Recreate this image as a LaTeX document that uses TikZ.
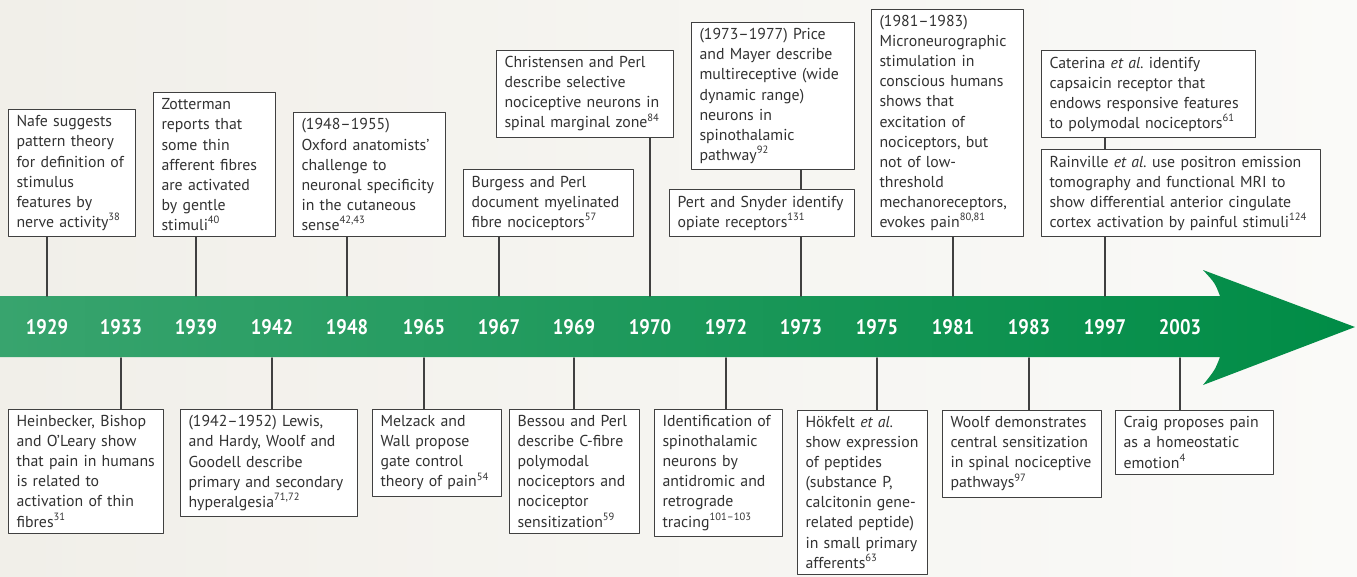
\documentclass[tikz,border=0pt]{standalone}
\usepackage{fontspec}
\setmainfont{PT Sans}
\newfontfamily\yearfont[FakeStretch=0.88]{PT Sans}
\usetikzlibrary{positioning}

\definecolor{bgleft}{RGB}{241,239,233}
\definecolor{bgright}{RGB}{250,250,248}
\definecolor{bandleft}{RGB}{56,164,110}
\definecolor{bandmid}{RGB}{14,147,82}
\definecolor{bandright}{RGB}{0,140,70}
\definecolor{boxgray}{RGB}{64,64,64}
\definecolor{textgray}{RGB}{50,50,50}

\begin{document}
\begin{tikzpicture}[x=0.02cm, y=-0.02cm, line join=round, line cap=round,
    font=\fontsize{9}{11.4}\selectfont,
    evbox/.style={draw=boxgray, line width=0.6pt, fill=white, text=textgray,
        align=left, inner xsep=0.16cm, inner ysep=3.5pt, text width=#1},
    year/.style={text=white, font=\yearfont\bfseries\fontsize{12}{14}\selectfont,
        minimum height=1.22cm, inner sep=0pt},
    link/.style={draw=boxgray, line width=0.6pt}]

    \clip (0,0) rectangle (1357,576);
    \shade[left color=bgleft, right color=bgright] (0,0) rectangle (1357,576);

    % the time arrow
    \shade[left color=bandleft, middle color=bandmid, right color=bandright]
        (0,296) -- (1220,296) .. controls (1215,283) .. (1203,270) -- (1355,327)
        -- (1203,385) .. controls (1215,370) .. (1220,357) -- (0,357) -- cycle;

    \foreach \yr/\xx in {1929/47, 1933/121, 1939/196, 1942/272, 1948/347, 1965/424,
        1967/499, 1969/574, 1970/650, 1972/726, 1973/801, 1975/877, 1981/953,
        1983/1029, 1997/1105, 2003/1180}
        \node[year] (y\yr) at (\xx,327) {\yr};

    % events above
    \node[evbox=2.22cm, anchor=south west] (nafe) at (8,237)
        {Nafe suggests\\pattern theory\\for definition of\\stimulus\\features by\\nerve activity\textsuperscript{38}};
    \node[evbox=2.12cm, anchor=south west] (zott) at (153,237)
        {Zotterman\\reports that\\some thin\\afferent fibres\\are activated\\by gentle\\stimuli\textsuperscript{40}};
    \node[evbox=2.72cm, anchor=south west] (oxf) at (293,237)
        {(1948--1955)\\Oxford anatomists'\\challenge to\\neuronal specificity\\in the cutaneous\\sense\textsuperscript{42,43}};
    \node[evbox=3.08cm, anchor=south west] (burg) at (463,237)
        {Burgess and Perl\\document myelinated\\fibre nociceptors\textsuperscript{57}};
    \node[evbox=3.22cm, anchor=south west] (chris) at (496,138)
        {Christensen and Perl\\describe selective\\nociceptive neurons in\\spinal marginal zone\textsuperscript{84}};
    \node[evbox=2.94cm, anchor=south west] (price) at (691,170)
        {(1973--1977) Price\\and Mayer describe\\multireceptive (wide\\dynamic range)\\neurons in\\spinothalamic\\pathway\textsuperscript{92}};
    \node[evbox=3.38cm, anchor=south west] (pert) at (669,237)
        {Pert and Snyder identify\\opiate receptors\textsuperscript{131}};
    \node[evbox=2.72cm, anchor=south west] (micro) at (871,237)
        {(1981--1983)\\Microneurographic\\stimulation in\\conscious humans\\shows that\\excitation of\\nociceptors, but\\not of low-\\threshold\\mechanoreceptors,\\evokes pain\textsuperscript{80,81}};
    \node[evbox=3.96cm, anchor=south west] (cat) at (1041,138)
        {Caterina \textit{et al.}\ identify\\capsaicin receptor that\\endows responsive features\\to polymodal nociceptors\textsuperscript{61}};
    \node[evbox=5.26cm, anchor=south west] (rain) at (1041,237)
        {Rainville \textit{et al.}\ use positron emission\\tomography and functional MRI to\\show differential anterior cingulate\\cortex activation by painful stimuli\textsuperscript{124}};

    % events below
    \node[evbox=2.78cm, anchor=north west] (hein) at (8,409)
        {Heinbecker, Bishop\\and O'Leary show\\that pain in humans\\is related to\\activation of thin\\fibres\textsuperscript{31}};
    \node[evbox=3.22cm, anchor=north west] (lewis) at (180,409)
        {(1942--1952) Lewis,\\and Hardy, Woolf and\\Goodell describe\\primary and secondary\\hyperalgesia\textsuperscript{71,72}};
    \node[evbox=2.26cm, anchor=north west] (melz) at (372,409)
        {Melzack and\\Wall propose\\gate control\\theory of pain\textsuperscript{54}};
    \node[evbox=2.28cm, anchor=north west] (bess) at (509,409)
        {Bessou and Perl\\describe C-fibre\\polymodal\\nociceptors and\\nociceptor\\sensitization\textsuperscript{59}};
    \node[evbox=2.24cm, anchor=north west] (ident) at (654,409)
        {Identification of\\spinothalamic\\neurons by\\antidromic and\\retrograde\\tracing\textsuperscript{101--103}};
    \node[evbox=2.28cm, anchor=north west] (hok) at (797,410)
        {H\"okfelt \textit{et al.}\\show expression\\of peptides\\(substance P,\\calcitonin gene-\\related peptide)\\in small primary\\afferents\textsuperscript{63}};
    \node[evbox=2.86cm, anchor=north west] (woolf) at (942,410)
        {Woolf demonstrates\\central sensitization\\in spinal nociceptive\\pathways\textsuperscript{97}};
    \node[evbox=2.84cm, anchor=north west] (craig) at (1115,410)
        {Craig proposes pain\\as a homeostatic\\emotion\textsuperscript{4}};

    \foreach \ev/\yr in {nafe/1929, zott/1939, oxf/1948, burg/1967, chris/1970,
        pert/1973, micro/1981, rain/1997}
        \draw[link] (\ev.south -| y\yr.north) -- (y\yr.north);
    \foreach \ev/\yr in {hein/1933, lewis/1942, melz/1965, bess/1969, ident/1972,
        hok/1975, woolf/1983, craig/2003}
        \draw[link] (y\yr.south) -- (\ev.north -| y\yr.south);
    \draw[link] (price.south -| y1973) -- (pert.north -| y1973);
    \draw[link] (cat.south -| y1997) -- (rain.north -| y1997);
\end{tikzpicture}
\end{document}
